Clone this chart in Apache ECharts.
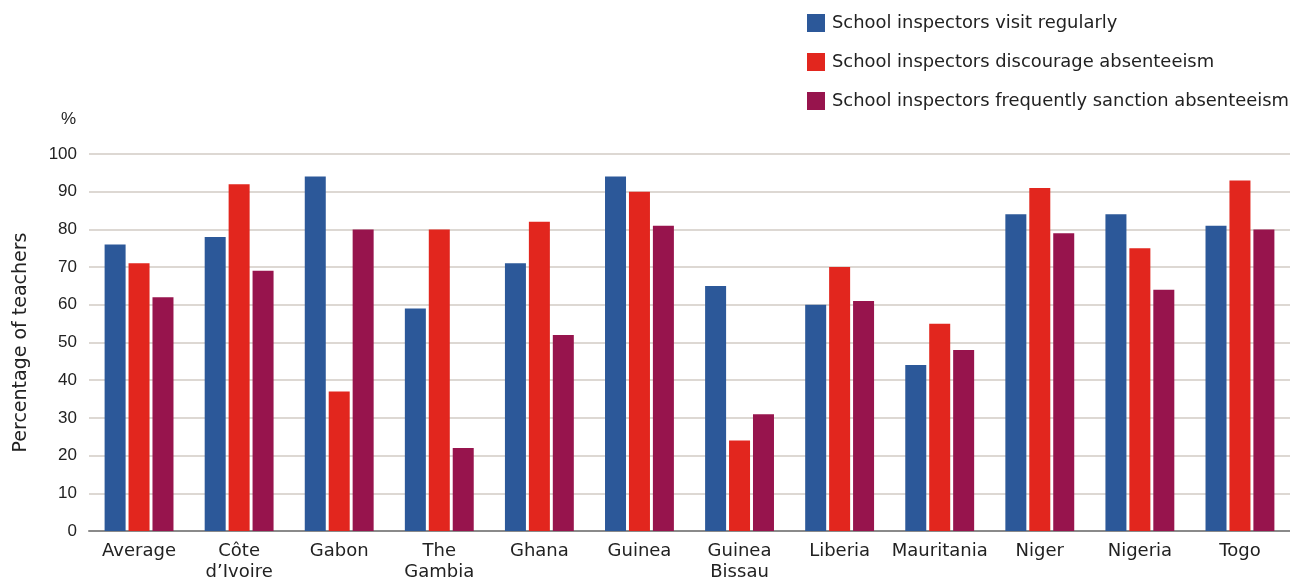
<!DOCTYPE html>
<html>
<head>
<meta charset="utf-8">
<script src="https://cdn.jsdelivr.net/npm/echarts@6/dist/echarts.min.js"></script>
<style>
html,body{margin:0;padding:0;background:#fff;}
#chart{width:1290px;height:578px;}
</style>
</head>
<body>
<div id="chart"></div>
<script>
const categories = ["Average", "Côte\nd’Ivoire", "Gabon", "The\nGambia", "Ghana", "Guinea", "Guinea\nBissau", "Liberia", "Mauritania", "Niger", "Nigeria", "Togo"];
const seriesNames = ["School inspectors visit regularly", "School inspectors discourage absenteeism", "School inspectors frequently sanction absenteeism"];
const visitRegularly = [76, 78, 94, 59, 71, 94, 65, 60, 44, 84, 84, 81];
const discourageAbsenteeism = [71, 92, 37, 80, 82, 90, 24, 70, 55, 91, 75, 93];
const sanctionAbsenteeism = [62, 69, 80, 22, 52, 81, 31, 61, 48, 79, 64, 80];
const colors = ["#2C5899", "#E2261E", "#97144D"];

const textFont = "DejaVu Sans, sans-serif";
const numFont = "Liberation Sans, Arial, sans-serif";
const chart = echarts.init(document.getElementById('chart'));
const mk = (name, data, color) => ({
  name, type: 'bar', data, barWidth: 21, barGap: '14%',
  itemStyle: {color}, emphasis: {disabled: true}
});
chart.setOption({
  animation: false,
  textStyle: {fontFamily: textFont},
  legend: {
    orient: 'vertical', left: 802, top: 9,
    itemWidth: 18, itemHeight: 18, itemGap: 21,
    icon: 'rect',
    textStyle: {fontSize: 17.9, color: '#222', fontFamily: textFont, padding: [0, 0, 0, 2]},
    data: seriesNames
  },
  grid: {left: 89, right: 0, top: 154, bottom: 47, containLabel: false, outerBoundsMode: 'none'},
  xAxis: {
    type: 'category', data: categories,
    axisTick: {show: false},
    axisLine: {lineStyle: {color: '#8a8a8a', width: 2}},
    axisLabel: {fontSize: 18, color: '#222', lineHeight: 21, margin: 10, interval: 0, fontFamily: textFont}
  },
  yAxis: {
    type: 'value', min: 0, max: 100, interval: 10,
    name: 'Percentage of teachers', nameLocation: 'middle', nameRotate: 90, nameGap: 58,
    nameTextStyle: {fontSize: 19, color: '#222', fontFamily: textFont},
    axisLine: {show: false}, axisTick: {show: false},
    axisLabel: {fontSize: 17, color: '#222', margin: 12, fontFamily: numFont},
    splitLine: {lineStyle: {color: '#DDD8D3', width: 2}}
  },
  graphic: [{
    type: 'text', left: 61, top: 111,
    style: {text: '%', fontSize: 17, fill: '#222', fontFamily: numFont}
  }],
  series: [
    mk(seriesNames[0], visitRegularly, colors[0]),
    mk(seriesNames[1], discourageAbsenteeism, colors[1]),
    mk(seriesNames[2], sanctionAbsenteeism, colors[2])
  ]
});
</script>
</body>
</html>
